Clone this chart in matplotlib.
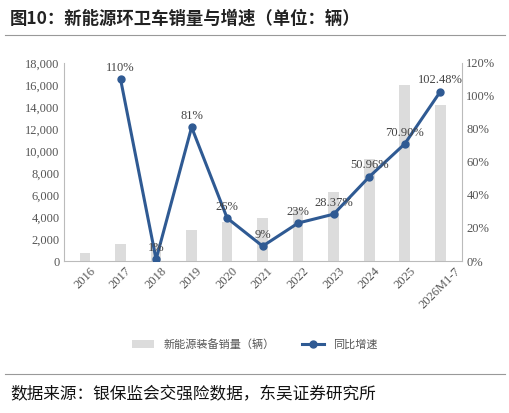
import matplotlib
matplotlib.use("Agg")
import matplotlib.pyplot as plt

years = ["2016","2017","2018","2019","2020","2021","2022","2023","2024","2025","2026M1-7"]
sales = [770,1540,1560,2830,3570,3880,4700,6250,9300,16000,14200]
growth = [None,110,1,81,26,9,23,28.37,50.96,70.90,102.48]
labels = ["","110%","1%","81%","26%","9%","23%","28.37%","50.96%","70.90%","102.48%"]

plt.rcParams['font.family'] = ['Liberation Serif', 'Noto Sans CJK SC']
fig = plt.figure(figsize=(5.10,4.13), dpi=100)
ax = fig.add_axes([0.125, 0.368, 0.78, 0.48])
x = list(range(len(years)))
ax.bar(x, sales, width=0.3, color='#dcdcdc', label='新能源装备销量（辆）')
ax.set_ylim(0,18000); ax.set_yticks(range(0,18001,2000))
ax.set_yticklabels([f"{v:,}" for v in range(0,18001,2000)], fontsize=9, color='#555555')
ax.set_xlim(-0.6, len(years)-0.4)
ax.set_xticks(x); ax.set_xticklabels(years, rotation=45, fontsize=9, color='#555555')
for s in ['top','right']: ax.spines[s].set_visible(False)
ax.spines['left'].set_color('#bbbbbb'); ax.spines['bottom'].set_color('#bbbbbb')
ax.tick_params(length=0, pad=3)
ax2 = ax.twinx()
gx = [i for i,g in zip(x,growth) if g is not None]
gy = [g for g in growth if g is not None]
ax2.plot(gx, gy, color='#2f5a93', lw=2.2, marker='o', ms=5, label='同比增速')
ax2.set_ylim(0,120); ax2.set_yticks(range(0,121,20))
ax2.set_yticklabels([f"{v}%" for v in range(0,121,20)], fontsize=9, color='#555555')
for s in ['top','left','bottom']: ax2.spines[s].set_visible(False)
ax2.spines['right'].set_color('#bbbbbb'); ax2.tick_params(length=0)
for i,(g,l) in enumerate(zip(growth,labels)):
    if g is not None:
        ax2.annotate(l, (i,g), xytext=(0,6), textcoords='offset points', ha='center', fontsize=9, color='#444444')
h1,l1 = ax.get_legend_handles_labels(); h2,l2 = ax2.get_legend_handles_labels()
fig.legend(h1+h2, l1+l2, loc='center', bbox_to_anchor=(0.5,0.165), ncol=2, frameon=False,
           prop={'family':['Noto Sans CJK SC'],'size':8}, labelcolor='#555555', columnspacing=2.5)
fig.text(0.02, 0.955, "图10：新能源环卫车销量与增速（单位：辆）", fontsize=12.5, fontweight='bold',
         family=['Noto Sans CJK SC'], color='#222222', va='center')
fig.add_artist(plt.Line2D([0.01,0.99],[0.915,0.915], color='#999999', lw=0.8))
fig.add_artist(plt.Line2D([0.01,0.99],[0.095,0.095], color='#999999', lw=0.8))
fig.text(0.02, 0.045, "数据来源：银保监会交强险数据，东吴证券研究所", fontsize=12,
         family=['Noto Sans CJK SC'], color='#111111', va='center')
fig.savefig("out.png", dpi=100)
